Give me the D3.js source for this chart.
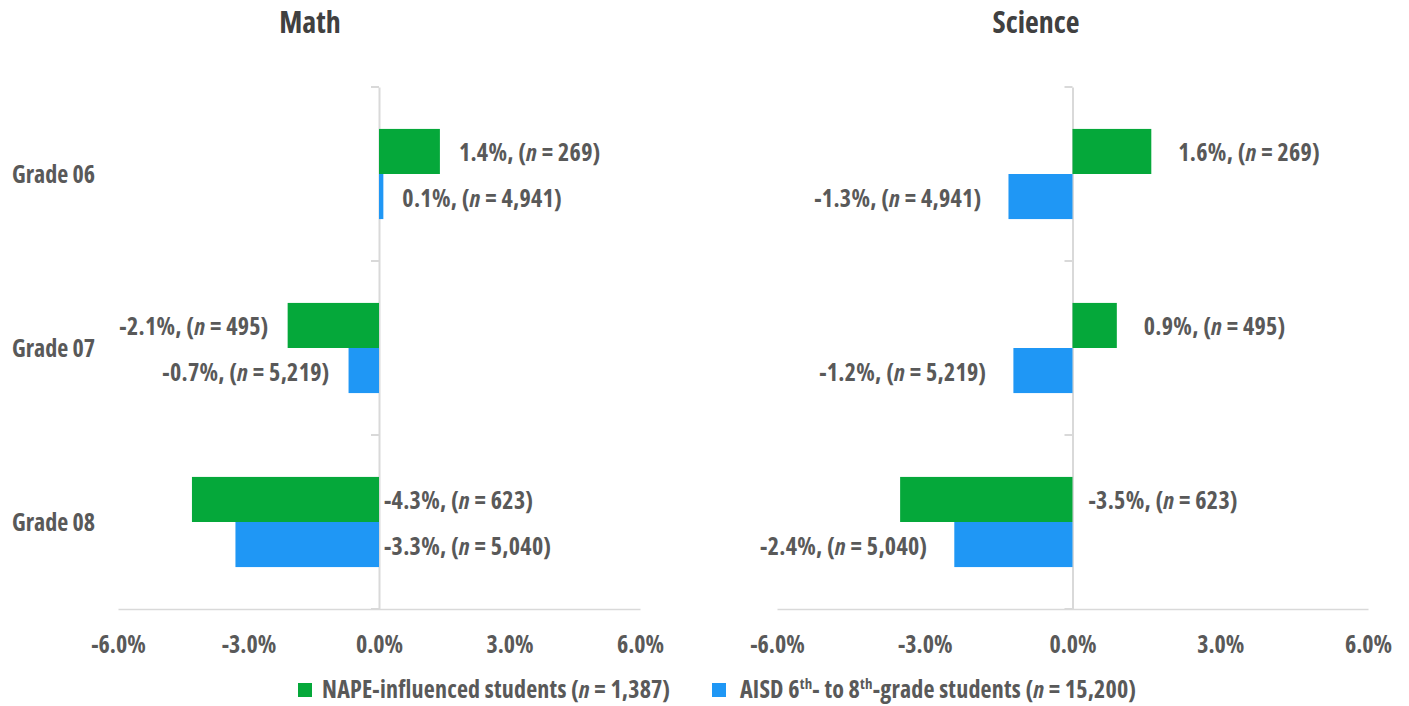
<!DOCTYPE html>
<html>
<head>
<meta charset="utf-8">
<script src="https://cdn.jsdelivr.net/npm/d3@7/dist/d3.min.js"></script>
<style>
  html, body { margin: 0; padding: 0; background: #fff; }
  svg text { font-family: "Open Sans", "Liberation Sans", sans-serif; font-weight: 700; font-stretch: 75%; }
</style>
</head>
<body>
<svg id="chart" width="1409" height="706"></svg>
<script>
// ---- data ----
const grades = ["Grade 06", "Grade 07", "Grade 08"];
const mathNape = [1.4, -2.1, -4.3];
const mathAisd = [0.1, -0.7, -3.3];
const sciNape = [1.6, 0.9, -3.5];
const sciAisd = [-1.3, -1.2, -2.4];
const napeN = [269, 495, 623];
const aisdN = [4941, 5219, 5040];
const napeTotal = 1387;
const aisdTotal = 15200;
const xTicks = [-6, -3, 0, 3, 6];
// where each value label sits: "end" = beyond the bar end, "zero" = just right of the zero line
const mathNapeLabelAt = ["end", "end", "zero"];
const mathAisdLabelAt = ["end", "end", "zero"];
const sciNapeLabelAt = ["end", "end", "zero"];
const sciAisdLabelAt = ["end", "end", "end"];

const GREEN = "#05a83a";
const BLUE = "#1f97f5";
const TEXT = "#595959";
const AXIS = "#d9d9d9";
const FS = "24px";

const svg = d3.select("#chart");
const fmtN = d3.format(",");
const fmtPct = d => d.toFixed(1) + "%";

const panels = [
  { title: "Math", titleX: 310, x0: 118, x1: 640, nape: mathNape, aisd: mathAisd,
    napeAt: mathNapeLabelAt, aisdAt: mathAisdLabelAt, gap: 19, zeroGap: 5, showGrades: true },
  { title: "Science", titleX: 1036, x0: 777, x1: 1368, nape: sciNape, aisd: sciAisd,
    napeAt: sciNapeLabelAt, aisdAt: sciAisdLabelAt, gap: 27, zeroGap: 16, showGrades: false }
];

const yTop = 87, yBottom = 609;

panels.forEach(p => {
  const g = svg.append("g");
  const x = d3.scaleLinear().domain([-6, 6]).range([p.x0, p.x1]);
  const y = d3.scaleBand().domain(grades).range([yTop, yBottom]).padding(0);
  const ySub = d3.scaleBand().domain(["nape", "aisd"]).range([0, y.bandwidth()])
    .paddingInner(0).paddingOuter(0.93);

  // title
  g.append("text").attr("x", p.titleX).attr("y", 33).attr("text-anchor", "middle")
    .attr("fill", "#404040").style("font-size", "30px").text(p.title);

  // horizontal value axis
  const xAxis = g.append("g").attr("transform", `translate(0,${yBottom})`)
    .call(d3.axisBottom(x).tickValues(xTicks).tickSize(0).tickPadding(0).tickFormat(fmtPct));
  xAxis.select(".domain").attr("stroke", AXIS).attr("stroke-width", 1.3);
  xAxis.selectAll("text").attr("dy", null).attr("y", 44).attr("fill", TEXT)
    .style("font-size", FS).style("font-family", null);

  // vertical category axis at zero
  const yAxis = g.append("g").attr("transform", `translate(${x(0)},0)`)
    .call(d3.axisLeft(y).tickValues([]).tickSizeOuter(0));
  yAxis.select(".domain").attr("stroke", AXIS).attr("stroke-width", 2);
  const bounds = [yTop, yTop + y.step(), yTop + 2 * y.step(), yBottom];
  yAxis.selectAll(".bound").data(bounds).join("line").attr("class", "bound")
    .attr("x1", -8).attr("x2", 0).attr("y1", d => d).attr("y2", d => d)
    .attr("stroke", AXIS).attr("stroke-width", 2);

  if (p.showGrades) {
    g.selectAll(".grade").data(grades).join("text").attr("class", "grade")
      .attr("x", 12).attr("y", d => y(d) + y.bandwidth() / 2 + 8.5)
      .attr("fill", TEXT).style("font-size", FS).text(d => d);
  }

  const rows = [];
  grades.forEach((gr, i) => {
    rows.push({ grade: gr, key: "nape", v: p.nape[i], n: napeN[i], at: p.napeAt[i], color: GREEN });
    rows.push({ grade: gr, key: "aisd", v: p.aisd[i], n: aisdN[i], at: p.aisdAt[i], color: BLUE });
  });

  g.selectAll(".bar").data(rows).join("rect").attr("class", "bar")
    .attr("x", d => x(Math.min(0, d.v)))
    .attr("width", d => Math.abs(x(d.v) - x(0)))
    .attr("y", d => y(d.grade) + ySub(d.key))
    .attr("height", ySub.bandwidth())
    .attr("fill", d => d.color);

  const labels = g.selectAll(".lbl").data(rows).join("text").attr("class", "lbl")
    .attr("fill", TEXT).style("font-size", FS).style("letter-spacing", "0.3px")
    .attr("y", d => y(d.grade) + ySub(d.key) + ySub.bandwidth() / 2 + 10)
    .attr("x", d => {
      if (d.at === "zero") return x(0) + p.zeroGap;
      return d.v >= 0 ? x(d.v) + p.gap : x(d.v) - p.gap;
    })
    .attr("text-anchor", d => (d.at === "zero" || d.v >= 0) ? "start" : "end");
  labels.append("tspan").text(d => fmtPct(d.v) + ", (");
  labels.append("tspan").style("font-style", "italic").text("n");
  labels.append("tspan").text(d => " = " + fmtN(d.n) + ")");
});

// legend
const legend = svg.append("g").attr("transform", "translate(0,698)");
legend.append("rect").attr("x", 298).attr("y", -15).attr("width", 14).attr("height", 14).attr("fill", GREEN);
const t1 = legend.append("text").attr("x", 322).attr("y", 0).attr("fill", TEXT)
  .style("font-size", FS).style("letter-spacing", "0.2px");
t1.append("tspan").text("NAPE-influenced students (");
t1.append("tspan").style("font-style", "italic").text("n");
t1.append("tspan").text(" = " + fmtN(napeTotal) + ")");

legend.append("rect").attr("x", 712).attr("y", -15).attr("width", 14).attr("height", 14).attr("fill", BLUE);
const t2 = legend.append("text").attr("x", 740).attr("y", 0).attr("fill", TEXT)
  .style("font-size", FS).style("letter-spacing", "0.2px");
t2.append("tspan").text("AISD 6");
t2.append("tspan").attr("dy", -9).style("font-size", "15px").text("th");
t2.append("tspan").attr("dy", 9).text("- to 8");
t2.append("tspan").attr("dy", -9).style("font-size", "15px").text("th");
t2.append("tspan").attr("dy", 9).text("-grade students (");
t2.append("tspan").style("font-style", "italic").text("n");
t2.append("tspan").text(" = " + fmtN(aisdTotal) + ")");
</script>
</body>
</html>
